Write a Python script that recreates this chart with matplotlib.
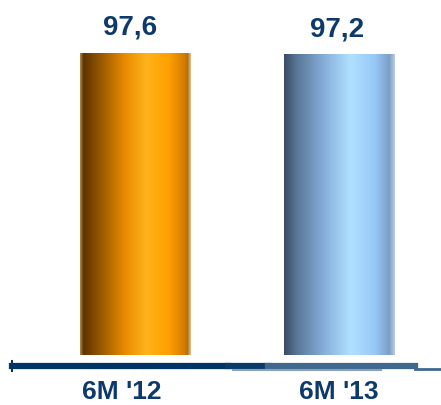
import matplotlib
matplotlib.use("Agg")
import matplotlib.pyplot as plt
import numpy as np
from matplotlib.colors import LinearSegmentedColormap
from matplotlib.lines import Line2D

# Data
periods = ["6M '12", "6M '13"]
values = [97.6, 97.2]
value_labels = ["97,6", "97,2"]

# horizontal shading for the cylinder look
orange_cmap = LinearSegmentedColormap.from_list("orange_cyl", [
    (0.00, "#b08850"), (0.03, "#5c3400"), (0.15, "#8a5000"), (0.40, "#e88a00"),
    (0.60, "#ffb31a"), (0.80, "#ff9f00"), (0.95, "#d27a00"), (0.97, "#b06a10"), (1.00, "#e0c090"),
])
blue_cmap = LinearSegmentedColormap.from_list("blue_cyl", [
    (0.00, "#3a4c64"), (0.12, "#5a7898"), (0.35, "#84acd8"), (0.60, "#b0e0ff"),
    (0.82, "#98c8f8"), (0.95, "#7c9ec8"), (1.00, "#b8cce0"),
])
cmaps = [orange_cmap, blue_cmap]

text_color = "#0e3a6b"
x = np.arange(len(periods))
bar_w = 0.54

fig = plt.figure(figsize=(4.41, 4.05), dpi=100)
ax = fig.add_axes([0, 50 / 405, 1, 355 / 405])
ax.set_xlim(-0.662, 1.5)
ax.set_ylim(0, values[0] * 355 / 302)

bars = ax.bar(x, values, width=bar_w, color="none", edgecolor="none")
grad = np.linspace(0, 1, 256).reshape(1, -1)
for bar, cm in zip(bars, cmaps):
    x0, w, h = bar.get_x(), bar.get_width(), bar.get_height()
    im = ax.imshow(grad, cmap=cm, aspect="auto", extent=[x0, x0 + w, 0, h],
                   interpolation="bilinear", zorder=2)
    im.set_clip_path(bar)

# value labels above the bars
label_dx = [-0.022, -0.01]
for xi, v, lab, dx in zip(x, values, value_labels, label_dx):
    ax.annotate(lab, (xi + dx, v), xytext=(0, 13), textcoords="offset points",
                ha="center", va="baseline", fontsize=20, fontweight="bold",
                color=text_color, family="Liberation Sans")

ax.set_xticks([x[0] - 0.064, x[1]])
ax.set_xticklabels(periods, fontsize=19, fontweight="bold", color=text_color,
                   family="Liberation Sans")
ax.tick_params(axis="x", length=0, pad=18)
ax.set_yticks([])
for s in ax.spines.values():
    s.set_visible(False)

# baseline strip under the bars
H = 405
def fy(py):
    return 1 - py / H
fig.add_artist(Line2D([12 / 441, 228 / 441], [fy(366), fy(366)], color="#003366", lw=4.5))
fig.add_artist(Line2D([12 / 441, 12 / 441], [fy(361), fy(371)], color="#003366", lw=1.5))
fig.add_artist(Line2D([228 / 441, 268 / 441], [fy(366), fy(366)], color="#0a3a6a", lw=4.5))
fig.add_artist(Line2D([268 / 441, 415 / 441], [fy(366), fy(366)], color="#40688f", lw=4.5))
fig.add_artist(Line2D([233 / 441, 381 / 441], [fy(370), fy(370)], color="#8aa2bc", lw=1.5))
fig.add_artist(Line2D([415 / 441, 1.0], [fy(369), fy(369)], color="#40688f", lw=2))

fig.savefig("out.png", dpi=100)
